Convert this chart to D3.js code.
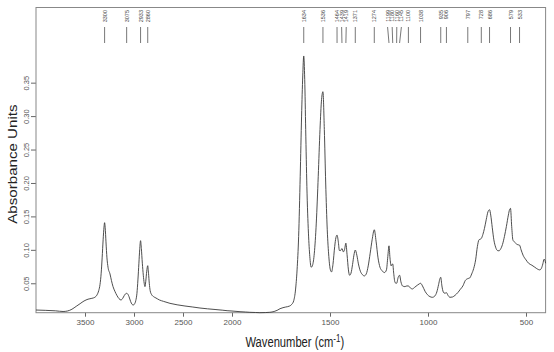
<!DOCTYPE html>
<html><head><meta charset="utf-8">
<script src="https://cdn.jsdelivr.net/npm/d3@7"></script>
<style>body{margin:0;background:#fff} text{font-family:"Liberation Sans",Arial,sans-serif}</style>
</head><body><svg id="c" width="554" height="352"></svg>
<script>
const wavenumbers = [4000,3900,3800,3724,3680,3633,3590,3550,3510,3469,3430,3400,3378,3360,3347,3335,3325,3315,3306,3300,3294,3286,3276,3265,3245,3230,3214,3195,3175,3153,3133,3115,3100,3088,3075,3062,3051,3035,3020,3007,2995,2982,2970,2960,2950,2942,2933,2925,2915,2905,2896,2888,2880,2870,2860,2852,2844,2835,2820,2800,2776,2740,2700,2633,2560,2480,2400,2327,2250,2173,2100,2050,2000,1959,1930,1909,1880,1858,1830,1807,1785,1770,1755,1740,1726,1706,1695,1685,1676,1668,1660,1652,1645,1639,1634,1629,1624,1618,1610,1603,1596,1589,1580,1570,1560,1551,1543,1536,1529,1522,1514,1506,1498,1492,1485,1476,1470,1464,1458,1452,1446,1439,1432,1426,1419,1413,1406,1400,1393,1385,1378,1371,1363,1355,1345,1335,1325,1315,1305,1295,1285,1274,1265,1255,1245,1235,1222,1212,1205,1199,1194,1188,1184,1180,1175,1168,1160,1152,1145,1138,1130,1118,1108,1100,1090,1080,1068,1055,1045,1038,1028,1015,1003,990,978,965,955,946,940,935,929,922,914,906,898,888,875,862,848,835,822,810,797,787,777,767,757,748,740,733,728,720,712,703,694,686,680,672,664,655,646,638,630,620,610,600,590,584,579,573,567,560,553,545,533,525,515,500,487,470,455,440,430,422,414,408,403,400];
const absorbance = [0.0100,0.0095,0.0088,0.0078,0.0085,0.0112,0.0155,0.0195,0.0235,0.0262,0.0275,0.0290,0.0325,0.0390,0.0480,0.0650,0.0880,0.1150,0.1340,0.1406,0.1330,0.1120,0.0880,0.0740,0.0640,0.0540,0.0450,0.0380,0.0320,0.0270,0.0250,0.0275,0.0315,0.0340,0.0350,0.0335,0.0300,0.0230,0.0185,0.0175,0.0190,0.0240,0.0350,0.0550,0.0800,0.1000,0.1137,0.1020,0.0800,0.0620,0.0500,0.0450,0.0530,0.0680,0.0763,0.0650,0.0500,0.0390,0.0330,0.0300,0.0280,0.0250,0.0230,0.0200,0.0178,0.0160,0.0145,0.0130,0.0118,0.0108,0.0098,0.0090,0.0085,0.0075,0.0070,0.0066,0.0063,0.0060,0.0062,0.0066,0.0078,0.0095,0.0120,0.0135,0.0145,0.0160,0.0185,0.0240,0.0400,0.0700,0.1200,0.2100,0.3000,0.3600,0.3899,0.3550,0.2800,0.1950,0.1250,0.0900,0.0740,0.0770,0.0950,0.1400,0.2100,0.2800,0.3250,0.3365,0.2800,0.2000,0.1300,0.0900,0.0700,0.0670,0.0780,0.1050,0.1180,0.1220,0.1130,0.0990,0.0990,0.1020,0.0970,0.1000,0.1100,0.0930,0.0700,0.0620,0.0650,0.0780,0.0920,0.0997,0.0920,0.0790,0.0680,0.0630,0.0610,0.0640,0.0760,0.0950,0.1150,0.1300,0.1130,0.0880,0.0740,0.0690,0.0660,0.0700,0.0900,0.1060,0.0880,0.0760,0.0780,0.0790,0.0650,0.0510,0.0500,0.0590,0.0620,0.0520,0.0460,0.0450,0.0460,0.0460,0.0430,0.0415,0.0440,0.0470,0.0490,0.0500,0.0460,0.0380,0.0330,0.0300,0.0290,0.0310,0.0370,0.0480,0.0560,0.0590,0.0460,0.0370,0.0350,0.0360,0.0320,0.0290,0.0295,0.0320,0.0360,0.0410,0.0460,0.0540,0.0570,0.0580,0.0640,0.0720,0.0850,0.1050,0.1150,0.1160,0.1170,0.1230,0.1320,0.1450,0.1570,0.1600,0.1520,0.1330,0.1150,0.1040,0.0990,0.0985,0.1010,0.1080,0.1200,0.1350,0.1520,0.1600,0.1620,0.1350,0.1150,0.1120,0.1100,0.1080,0.1070,0.1000,0.0920,0.0850,0.0800,0.0770,0.0740,0.0710,0.0700,0.0720,0.0790,0.0860,0.0840,0.0800];
const peakLabels = [3300,3075,2933,2860,1634,1536,1464,1439,1419,1371,1274,1199,1180,1160,1145,1100,1038,935,906,797,728,686,579,533];
const xTicks = [3500,3000,2500,2000,1500,1000,500];
const yTicks = [0.05,0.10,0.15,0.20,0.25,0.30,0.35];
const xTitle = "Wavenumber (cm";
const xTitleSup = "-1";
const yTitle = "Absorbance Units";

const svg = d3.select("#c");
const L = 36, R = 545.6, T = 7.5, B = 312.7;
const x = d3.scaleLinear().domain([4000, 2000, 400]).range([L, 232, R]);
const y = d3.scaleLinear().domain([0.006, 0.4624]).range([B, T]);
const grey = "#666";

// x axis
const gx = svg.append("g").attr("transform", `translate(0,${B})`)
  .call(d3.axisBottom(x).tickValues(xTicks).tickSize(4).tickPadding(3).tickFormat(d3.format("d")));
gx.select(".domain").remove();
gx.selectAll("line").attr("stroke", grey);
gx.selectAll("text").attr("fill", "#555").style("font-size", "8px");

// y axis
const gy = svg.append("g").attr("transform", `translate(${L},0)`)
  .call(d3.axisLeft(y).tickValues(yTicks).tickSize(5).tickFormat(d3.format(".2f")));
gy.select(".domain").remove();
gy.selectAll("line").attr("stroke", grey);
gy.selectAll("text").attr("fill", "#555").style("font-size", "7.5px")
  .attr("x", null).attr("dy", null).attr("text-anchor", "middle")
  .attr("transform", "translate(-7.5,0) rotate(-90)");

// frame
svg.append("rect").attr("x", L).attr("y", T).attr("width", R - L).attr("height", B - T)
  .attr("fill", "none").attr("stroke", "#888").attr("stroke-width", 1);

// spectrum
const pts = wavenumbers.map((w, i) => [w, absorbance[i]]);
const line = d3.line().x(d => x(d[0])).y(d => y(d[1])).curve(d3.curveMonotoneX);
svg.append("path").datum(pts).attr("d", line).attr("fill", "none")
  .attr("stroke", "#3a3a3a").attr("stroke-width", 0.9);

// peak labels with spreading
const gap = 4.6;
const pos = peakLabels.map(w => ({ w, t: x(w), p: x(w) }));
for (let it = 0; it < 300; it++) {
  let moved = false;
  for (let i = 1; i < pos.length; i++) {
    const d = pos[i].p - pos[i - 1].p;
    if (d < gap - 1e-6) { const s = (gap - d) / 2; pos[i].p += s; pos[i - 1].p -= s; moved = true; }
  }
  if (!moved) break;
}
const gl = svg.append("g");
gl.selectAll("line").data(pos).join("line")
  .attr("x1", d => d.p).attr("y1", 27).attr("x2", d => d.t).attr("y2", 43)
  .attr("stroke", "#555").attr("stroke-width", 0.8);
gl.selectAll("text").data(pos).join("text")
  .attr("transform", d => `translate(${d.p + 2},10) rotate(-90)`)
  .attr("text-anchor", "end").attr("fill", "#444").style("font-size", "5.5px")
  .text(d => d.w);

// titles (slightly condensed horizontally, as in the reference)
const xt = svg.append("text")
  .attr("transform", `translate(${(L + R) / 2 + 4},347) scale(0.8,1.05)`)
  .attr("text-anchor", "middle").attr("fill", "#222").style("font-size", "14px");
xt.append("tspan").text(xTitle);
xt.append("tspan").attr("dy", -5).style("font-size", "10px").text(xTitleSup);
xt.append("tspan").attr("dy", 5).text(")");
svg.append("text").attr("transform", `translate(17,${(T + B) / 2 + 4}) rotate(-90) scale(1.08,0.9)`)
  .attr("text-anchor", "middle").attr("fill", "#222").style("font-size", "14px").text(yTitle);
</script></body></html>
